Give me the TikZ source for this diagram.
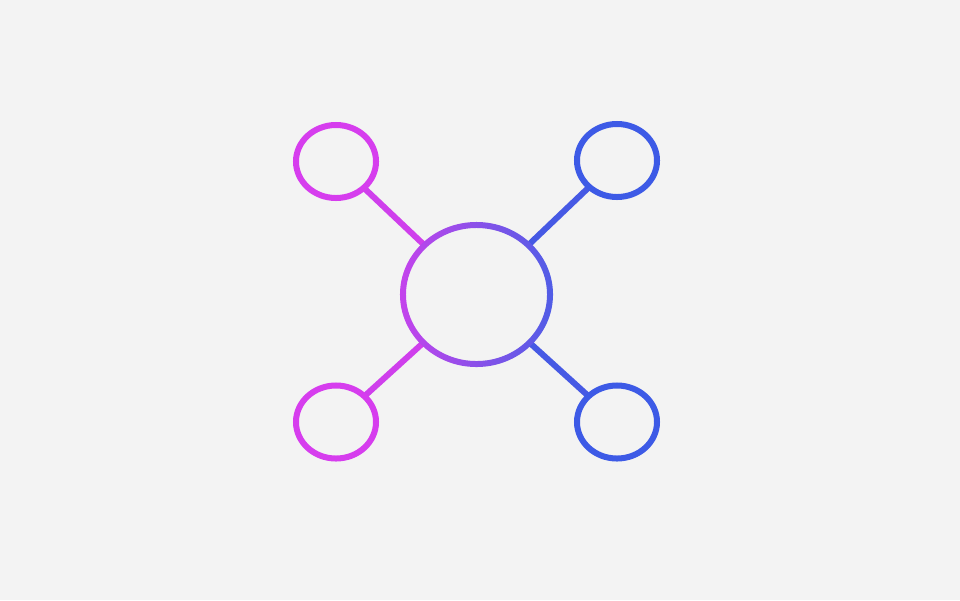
\documentclass[tikz,border=0pt]{standalone}
\usepackage{tikz}
\usetikzlibrary{shapes, calc, positioning}
\definecolor{hubpink}{HTML}{D63DEE}
\definecolor{hubblue}{HTML}{3D5AE6}
\definecolor{ringpink}{HTML}{C443EC}
\definecolor{ringblue}{HTML}{505DE6}
\definecolor{linepink}{HTML}{CF3FEC}
\definecolor{lineblue}{HTML}{4659E4}
\definecolor{paper}{HTML}{F3F3F3}
\begin{document}
\begin{tikzpicture}[x=0.025cm, y=-0.025cm]
 \tikzstyle{S} = [ellipse, inner sep=0pt, minimum width=2cm, minimum height=1.825cm]
 \tikzstyle{M} = [ellipse, inner sep=0pt, minimum width=3.675cm, minimum height=3.475cm]
 \tikzstyle{L} = [line width=0.15cm]
 \tikzstyle{R} = [line width=0.15cm]

 \fill [paper] (0,0) rectangle (960,600);

 % hub and the four satellites
 \node [M] (hub) at (476.5,294.5) {};
 \node [S] (TL)  at (336,161.5) {};
 \node [S] (TR)  at (617,160.5) {};
 \node [S] (BL)  at (336,422) {};
 \node [S] (BR)  at (617,422) {};

 % spokes
 \draw [L, linepink] (TL) -- (hub);
 \draw [L, linepink] (BL) -- (hub);
 \draw [L, lineblue] (TR) -- (hub);
 \draw [L, lineblue] (BR) -- (hub);

 % rings
 \draw [R, hubpink] (TL.center) ellipse [x radius=1cm, y radius=0.9125cm];
 \draw [R, hubpink] (BL.center) ellipse [x radius=1cm, y radius=0.9125cm];
 \draw [R, hubblue] (TR.center) ellipse [x radius=1cm, y radius=0.9125cm];
 \draw [R, hubblue] (BR.center) ellipse [x radius=1cm, y radius=0.9125cm];
 \shade [left color=ringpink, right color=ringblue, even odd rule]
  (hub.center) ellipse [x radius=1.9125cm, y radius=1.8125cm]
  (hub.center) ellipse [x radius=1.7625cm, y radius=1.6625cm];
\end{tikzpicture}
\end{document}
